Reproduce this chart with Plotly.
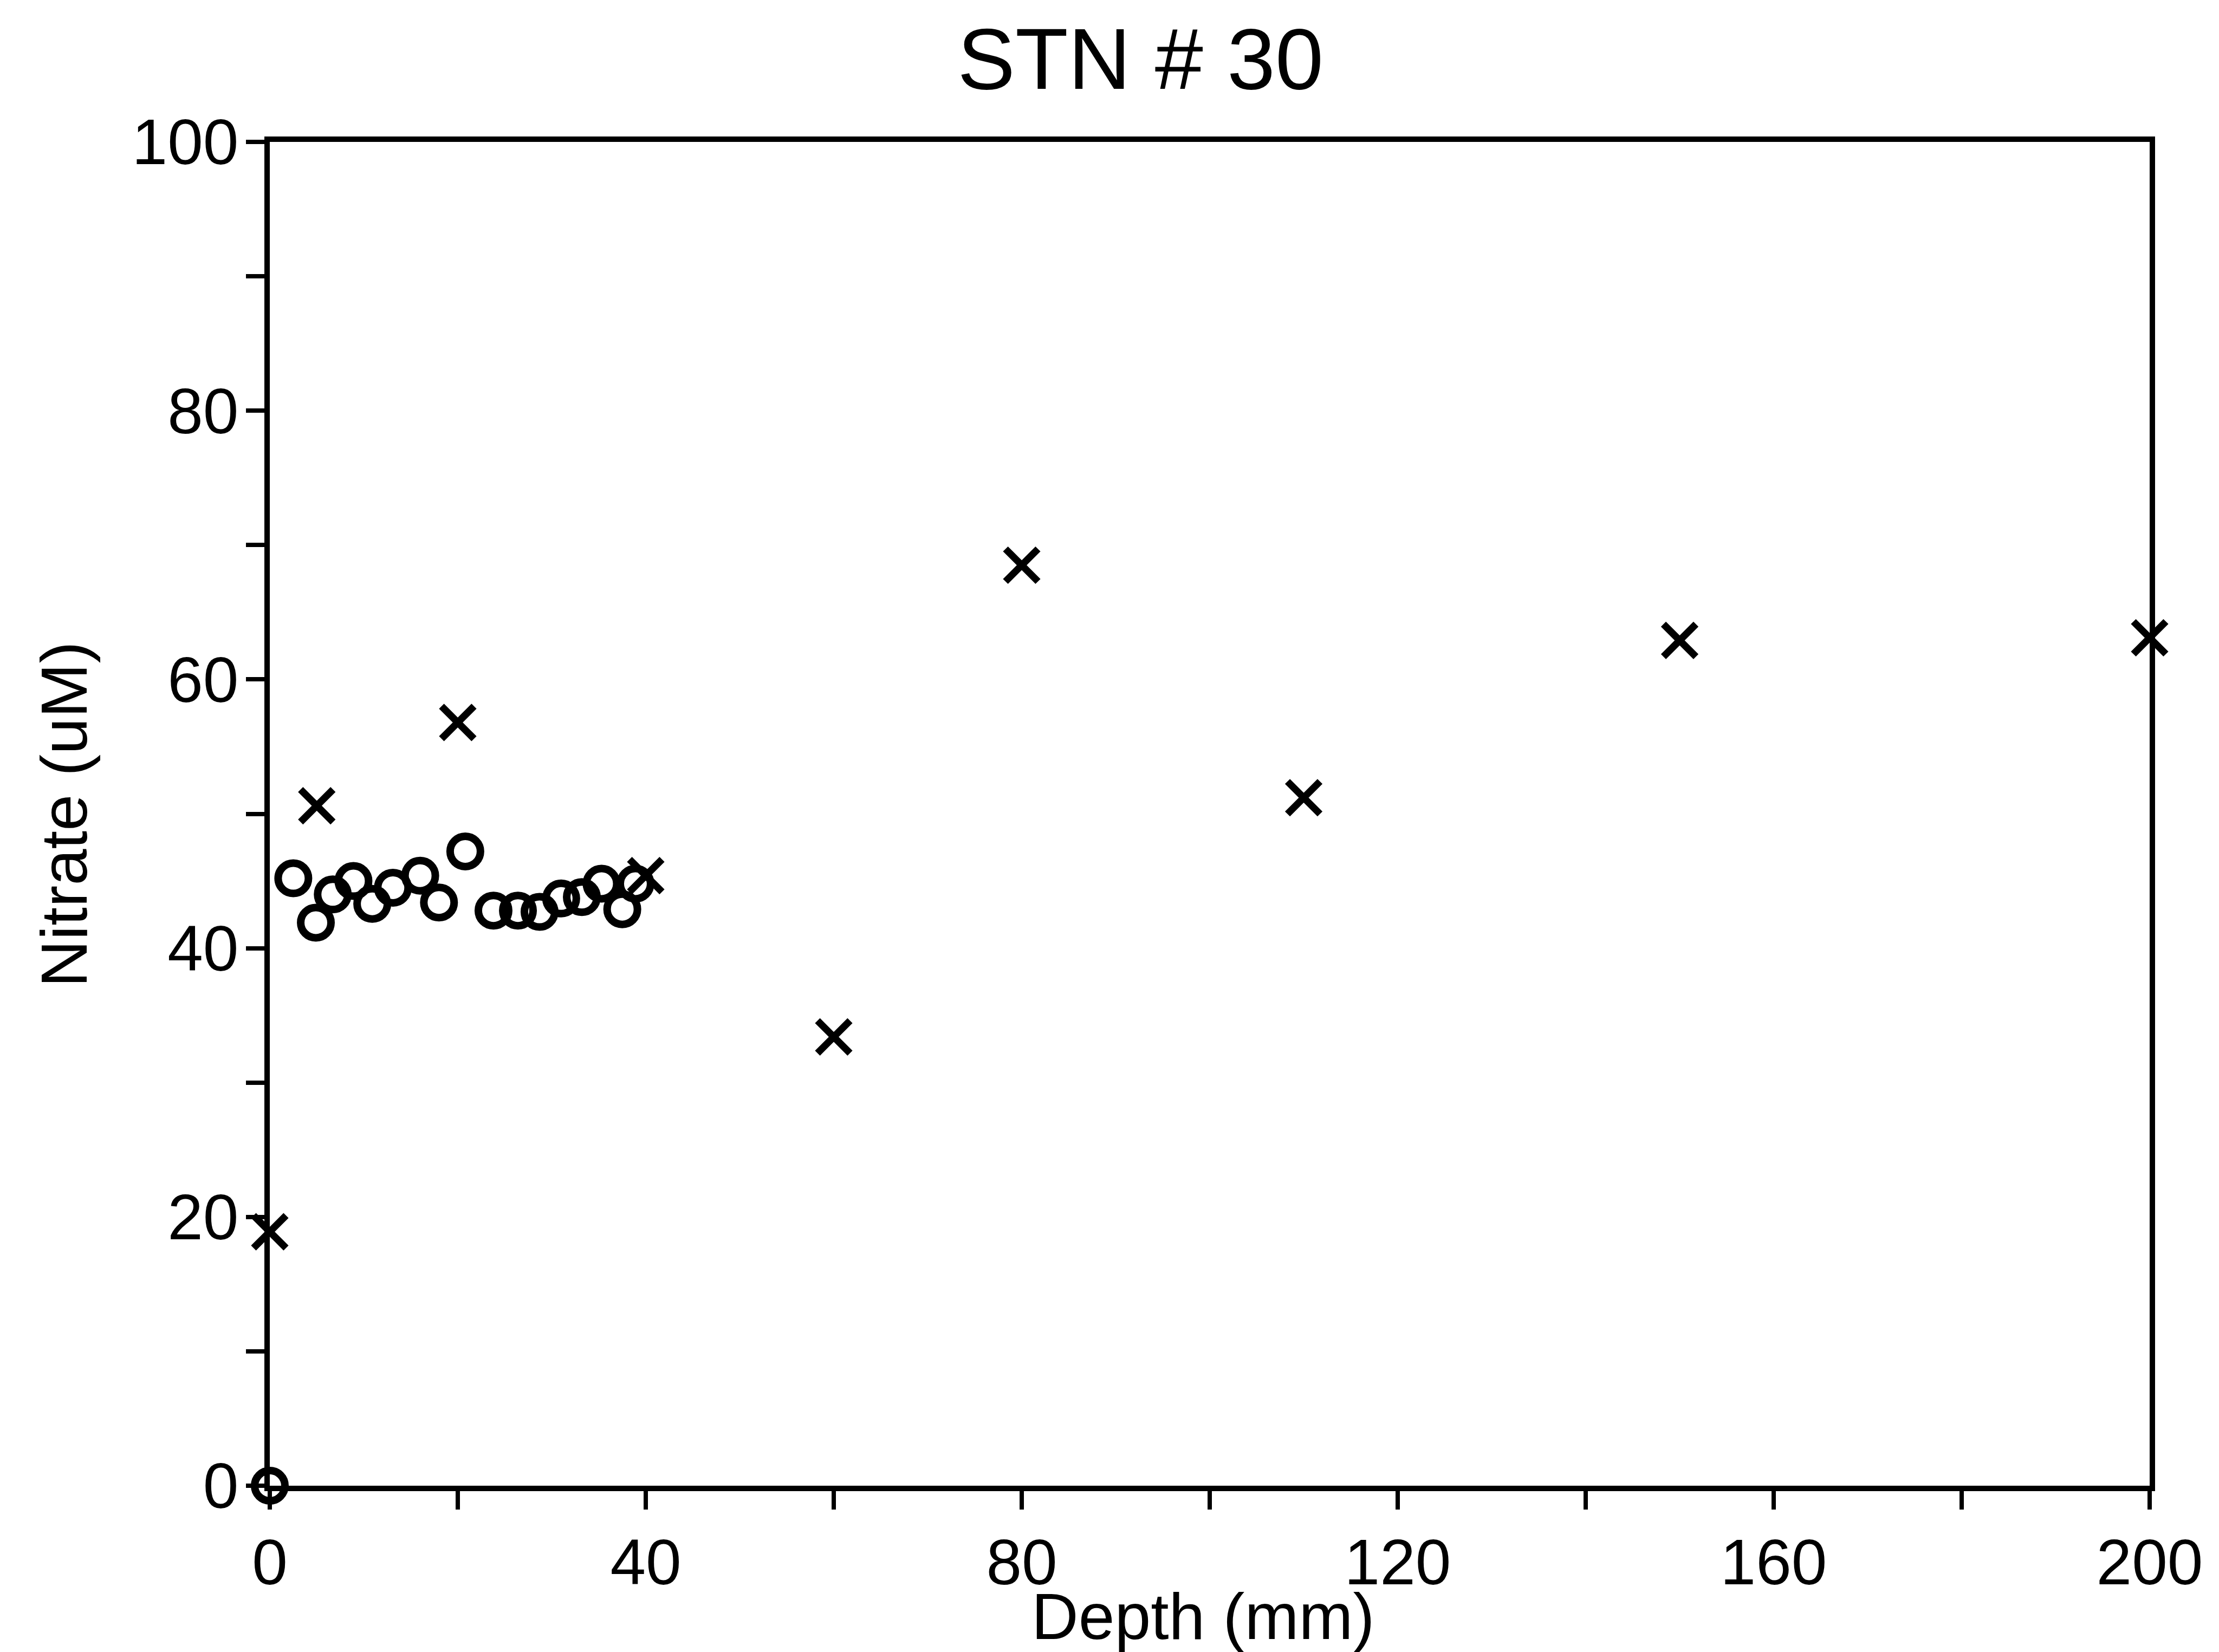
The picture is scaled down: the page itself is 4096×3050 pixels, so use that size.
import plotly.graph_objects as go

# Data
circle_depth = [0, 2.5, 4.9, 6.7, 8.9, 10.9, 13.1, 16.0, 18.0, 20.8, 23.8, 26.4, 28.7, 31.0, 33.2, 35.3, 37.5, 38.9]
circle_nitrate = [0, 45.2, 41.9, 44.0, 45.0, 43.3, 44.5, 45.4, 43.4, 47.2, 42.8, 42.8, 42.7, 43.7, 43.8, 44.8, 42.9, 44.8]

x_depth = [0, 5, 20, 40, 60, 80, 110, 150, 200]
x_nitrate = [18.9, 50.6, 56.8, 45.4, 33.4, 68.5, 51.2, 62.9, 63.1]

x_tickvals = [0, 20, 40, 60, 80, 100, 120, 140, 160, 180, 200]
x_ticktext = ["0", "", "40", "", "80", "", "120", "", "160", "", "200"]
y_tickvals = [0, 10, 20, 30, 40, 50, 60, 70, 80, 90, 100]
y_ticktext = ["0", "", "20", "", "40", "", "60", "", "80", "", "100"]

FONT = "Liberation Sans, Arial, Helvetica, sans-serif"

W, H = 4096, 3050
L, R, T, B = 490, 136, 254, 315
PW, PH = W - L - R, H - T - B

fig = go.Figure()
fig.add_trace(go.Scatter(
    x=circle_depth, y=circle_nitrate, mode="markers",
    marker=dict(symbol="circle-open", size=56, color="black", line=dict(width=14, color="black")),
    cliponaxis=False, showlegend=False,
))
fig.add_trace(go.Scatter(
    x=x_depth, y=x_nitrate, mode="markers",
    marker=dict(symbol="x-thin-open", size=60, color="black", line=dict(width=13, color="black")),
    cliponaxis=False, showlegend=False,
))

axis_common = dict(
    showgrid=False, zeroline=False, showline=True, linecolor="black", linewidth=10,
    mirror=True, ticks="outside", ticklen=34, tickwidth=8, tickcolor="black",
    tickfont=dict(family=FONT, size=118, color="black"), tickmode="array",
)

fig.update_layout(
    width=W, height=H,
    margin=dict(l=L, r=R, t=T, b=B),
    paper_bgcolor="white", plot_bgcolor="white",
    title=dict(text="STN # 30", x=0.512, xanchor="center", y=1 - 100 / H, yanchor="middle",
               font=dict(family=FONT, size=160, color="black")),
    xaxis=dict(range=[0, 200], tickvals=x_tickvals, ticktext=x_ticktext,
               ticklabelstandoff=-4, **axis_common),
    yaxis=dict(range=[0, 100], tickvals=y_tickvals, ticktext=y_ticktext,
               ticklabelstandoff=-10, **axis_common),
    annotations=[
        dict(text="Depth (mm)", xref="paper", yref="paper",
             x=(2212 - L) / PW, y=-(2976 - (H - B)) / PH,
             xanchor="center", yanchor="middle", showarrow=False,
             font=dict(family=FONT, size=120, color="black")),
        dict(text="Nitrate (uM)", xref="paper", yref="paper", textangle=-90,
             x=-(L - 110) / PW, y=1 - (1496 - T) / PH,
             xanchor="center", yanchor="middle", showarrow=False,
             font=dict(family=FONT, size=121, color="black")),
    ],
)

fig.write_html("out.html")
